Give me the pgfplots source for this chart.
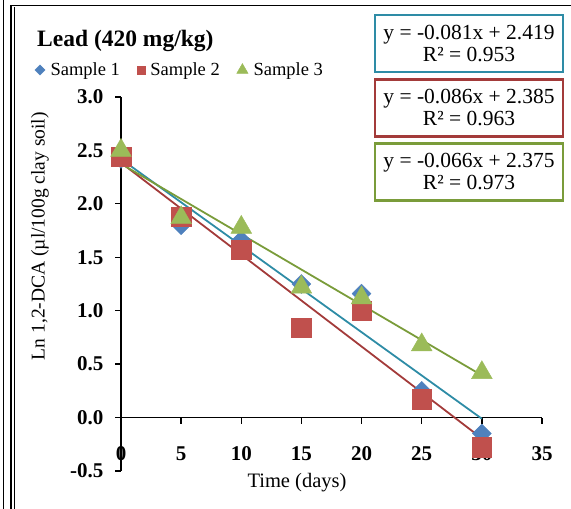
\documentclass[border=0pt]{standalone}
\usepackage{fontspec}
\setmainfont{Liberation Serif}
\usepackage{pgfplots}
\pgfplotsset{compat=1.18}
\definecolor{s1}{HTML}{4F81BD}
\definecolor{s2}{HTML}{C0504D}
\definecolor{s3}{HTML}{9BBB59}
\definecolor{t1}{HTML}{2E8CA6}
\definecolor{t2}{HTML}{A33B3A}
\definecolor{t3}{HTML}{7A9C3A}
\begin{document}
\begin{tikzpicture}[x=1bp,y=1bp]
\useasboundingbox (0,0) rectangle (571,509);
% frame
\draw[line width=1.6bp] (3.5,0) -- (3.5,509);
\draw[line width=1.6bp] (11,0) -- (11,503.5) -- (571,503.5);
\draw[line width=1.2bp] (14.5,0) -- (14.5,501.5);
\begin{axis}[
  at={(121bp,38bp)}, anchor=south west,
  scale only axis, width=421bp, height=374bp,
  xmin=0, xmax=35, ymin=-0.5, ymax=3,
  axis x line*=middle, axis y line*=left,
  hide obscured x ticks=false, hide obscured y ticks=false,
  axis line style={black, line width=1.3bp, -},
  xtick={0,5,...,35}, ytick={-0.5,0,...,3},
  tick align=outside, major tick length=6bp,
  tick style={black, line width=1.3bp},
  /pgf/number format/assume math mode=true,
  x tick label style={font=\fontsize{21bp}{22bp}\bfseries\selectfont, anchor=center, yshift=-30bp},
  y tick label style={font=\fontsize{21bp}{22bp}\bfseries\selectfont, anchor=east, xshift=-8bp, /pgf/number format/fixed, /pgf/number format/fixed zerofill, /pgf/number format/precision=1},
  xlabel={Time (days)},
  xlabel style={at={(rel axis cs:0.418,-0.032)}, anchor=center, font=\fontsize{20.5bp}{22bp}\selectfont},
  ylabel={Ln 1,2-DCA (µl/100g clay soil)},
  ylabel style={at={(rel axis cs:-0.1924,0.628)}, anchor=center, font=\fontsize{19.5bp}{22bp}\selectfont},
  legend style={at={(rel axis cs:-0.205,1.072)}, anchor=west, draw=none, fill=none,
    font=\fontsize{18.5bp}{20bp}\selectfont, legend columns=3,
    /tikz/every even column/.append style={column sep=15bp},
    /tikz/every odd column/.append style={column sep=3.5bp},
    inner sep=0pt, row sep=0pt},
  legend cell align=left,
  legend image code/.code={\draw[#1] plot coordinates {(0bp,0bp)};},
  clip=false,
]
% legend images
\addlegendimage{only marks, mark=square*, mark size=3.6bp, mark options={rotate=45, fill=s1, draw=s1}}
\addlegendentry{Sample 1}
\addlegendimage{only marks, mark=square*, mark size=4bp, mark options={fill=s2, draw=s2}}
\addlegendentry{Sample 2}
\addlegendimage{only marks, mark=triangle*, mark size=6.5bp, mark options={fill=s3, draw=s3}}
\addlegendentry{Sample 3}
% data
\addplot[forget plot, only marks, mark=square*, mark size=6.7bp, mark options={rotate=45, fill=s1, draw=s1}]
  coordinates {(0,2.42) (5,1.80) (10,1.66) (15,1.25) (20,1.16) (25,0.25) (30,-0.15)};
\addplot[forget plot, only marks, mark=square*, mark size=9.8bp, mark options={fill=s2, draw=s2}]
  coordinates {(0,2.44) (5,1.88) (10,1.57) (15,0.84) (20,1.00) (25,0.17) (30,-0.28)};
\addplot[forget plot, only marks, mark=triangle*, mark size=12bp, mark options={fill=s3, draw=s3}]
  coordinates {(0,2.50) (5,1.87) (10,1.78) (15,1.22) (20,1.12) (25,0.68) (30,0.42)};
% trendlines
\addplot[forget plot, no marks, color=t1, line width=1.8bp] coordinates {(0,2.419) (30,-0.011)};
\addplot[forget plot, no marks, color=t2, line width=1.8bp] coordinates {(0,2.385) (30,-0.195)};
\addplot[forget plot, no marks, color=t3, line width=1.8bp] coordinates {(0,2.375) (30,0.395)};
\end{axis}
% title
\node[anchor=base west, inner sep=0pt, font=\fontsize{23.5bp}{26bp}\bfseries\selectfont] at (37,462) {Lead (420 mg/kg)};
% equation boxes
\tikzset{eqbox/.style={draw, line width=2.6bp, minimum width=188bp, minimum height=57bp, align=center, inner sep=0pt, fill=white,
  font=\fontsize{21.5bp}{22bp}\selectfont}}
\node[eqbox, draw=t1] at (469,465.5) {y = -0.081x + 2.419\\R² = 0.953};
\node[eqbox, draw=t2] at (469,401) {y = -0.086x + 2.385\\R² = 0.963};
\node[eqbox, draw=t3] at (469,337) {y = -0.066x + 2.375\\R² = 0.973};
\end{tikzpicture}
\end{document}
